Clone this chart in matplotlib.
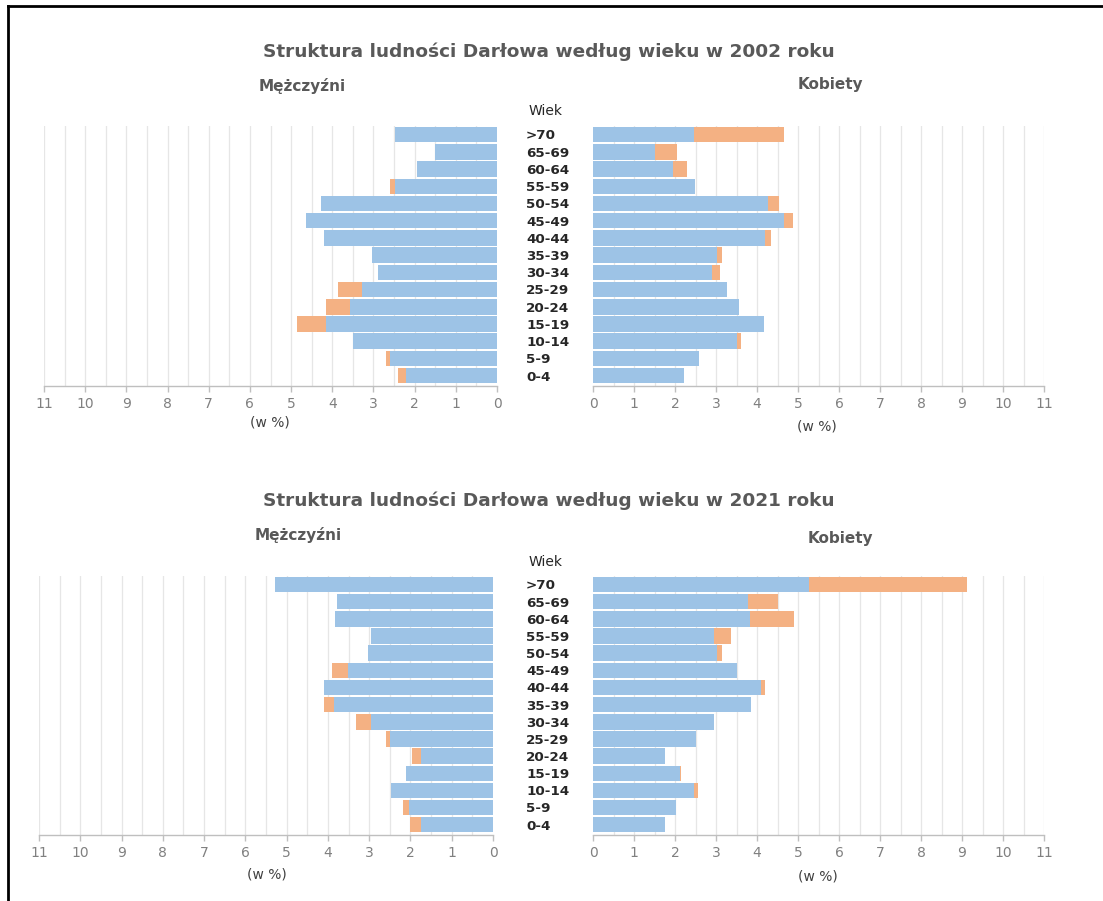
import numpy as np
import matplotlib
matplotlib.use("Agg")
import matplotlib.pyplot as plt
from matplotlib.lines import Line2D
from matplotlib.transforms import blended_transform_factory

# grupy wieku (od najmlodszych)
ages = ['0-4', '5-9', '10-14', '15-19', '20-24', '25-29', '30-34', '35-39',
        '40-44', '45-49', '50-54', '55-59', '60-64', '65-69', '>70']

# odsetki (w %) - 2002
men_2002 = [2.41, 2.69, 3.50, 4.86, 4.15, 3.87, 2.90, 3.03,
            4.19, 4.65, 4.28, 2.59, 1.94, 1.51, 2.47]
women_2002 = [2.22, 2.59, 3.60, 4.16, 3.56, 3.28, 3.09, 3.15,
              4.35, 4.88, 4.53, 2.48, 2.30, 2.06, 4.66]

# odsetki (w %) - 2021
men_2021 = [2.00, 2.18, 2.47, 2.12, 1.96, 2.59, 3.33, 4.09,
            4.09, 3.89, 3.03, 2.96, 3.83, 3.78, 5.27]
women_2021 = [1.75, 2.03, 2.56, 2.15, 1.75, 2.50, 2.95, 3.86,
              4.19, 3.51, 3.15, 3.37, 4.91, 4.50, 9.11]

BLUE = '#9DC3E6'
ORANGE = '#F4B183'
GRID = '#e6e6e6'
AXIS = '#bfbfbf'
TICK = '#808080'
TITLE = '#595959'

W, H = 1103, 901
fig = plt.figure(figsize=(W / 100, H / 100), dpi=100)


def fx(px):
    return px / W


def fy(py):
    return 1 - py / H


def panel(rect, vals, other, male):
    ax = fig.add_axes(rect)
    y = np.arange(len(ages))
    v = np.array(vals)
    o = np.array(other)
    base = np.minimum(v, o)
    extra = np.clip(v - o, 0, None)
    ax.barh(y, base, height=0.9, color=BLUE, zorder=3)
    ax.barh(y, extra, left=base, height=0.9, color=ORANGE, zorder=3)
    ax.set_ylim(-0.6, 14.5)
    if male:
        ax.set_xlim(11, 0)
    else:
        ax.set_xlim(0, 11)
    for g in np.arange(0.5, 11.01, 0.5):
        ax.axvline(g, color=GRID, lw=0.9, zorder=1)
    ax.set_xticks(range(0, 12))
    ax.set_yticks([])
    for s in ['top', 'left', 'right']:
        ax.spines[s].set_visible(False)
    ax.spines['bottom'].set_color(AXIS)
    ax.spines['bottom'].set_linewidth(1.0)
    ax.tick_params(axis='x', colors=AXIS, labelcolor=TICK, labelsize=10,
                   length=4, width=1.0, pad=4)
    ax.set_facecolor('none')
    return ax


def pyramid(top, bot, men, women, year, t_y, m_pos, k_pos, wiek_y, wp_l, wp_r,
            lx, rx):
    axl = panel([fx(lx[0]), fy(bot), fx(lx[1] - lx[0]), (bot - top) / H],
                men, women, True)
    axr = panel([fx(rx[0]), fy(bot), fx(rx[1] - rx[0]), (bot - top) / H],
                women, men, False)
    fig.text(fx(549), fy(t_y), 'Struktura ludności Darłowa według wieku w %d roku' % year,
             ha='center', va='center', fontsize=13.3, fontweight='bold', color=TITLE)
    fig.text(fx(m_pos[0]), fy(m_pos[1]), 'Mężczyźni', ha='center', va='center',
             fontsize=11, fontweight='bold', color=TITLE)
    fig.text(fx(k_pos[0]), fy(k_pos[1]), 'Kobiety', ha='center', va='center',
             fontsize=11, fontweight='bold', color=TITLE)
    fig.text(fx(546), fy(wiek_y), 'Wiek', ha='center', va='center',
             fontsize=10, color='#262626')
    tr = blended_transform_factory(fig.transFigure, axr.transData)
    for i, a in enumerate(ages):
        axr.text(fx(526), i - 0.08, a, transform=tr, ha='left', va='center',
                 fontsize=9.7, fontweight='bold', color='#262626')
    fig.text(fx(wp_l[0]), fy(wp_l[1]), '(w %)', ha='center', va='center',
             fontsize=10, color='#404040')
    fig.text(fx(wp_r[0]), fy(wp_r[1]), '(w %)', ha='center', va='center',
             fontsize=10, color='#404040')


pyramid(126, 386, men_2002, women_2002, 2002, 52, (302, 86), (830, 84), 111,
        (270, 423), (817, 426), (44, 497), (593, 1044))
pyramid(576, 835, men_2021, women_2021, 2021, 501, (298, 535), (840, 538), 562,
        (267, 874), (818, 876), (39, 493), (593, 1044))

# ramka
fig.add_artist(Line2D([fx(8), 1], [fy(6), fy(6)], color='black', lw=2,
                      transform=fig.transFigure))
fig.add_artist(Line2D([fx(8), fx(8)], [fy(6), 0], color='black', lw=2,
                      transform=fig.transFigure))

fig.savefig('out.png', dpi=100)
